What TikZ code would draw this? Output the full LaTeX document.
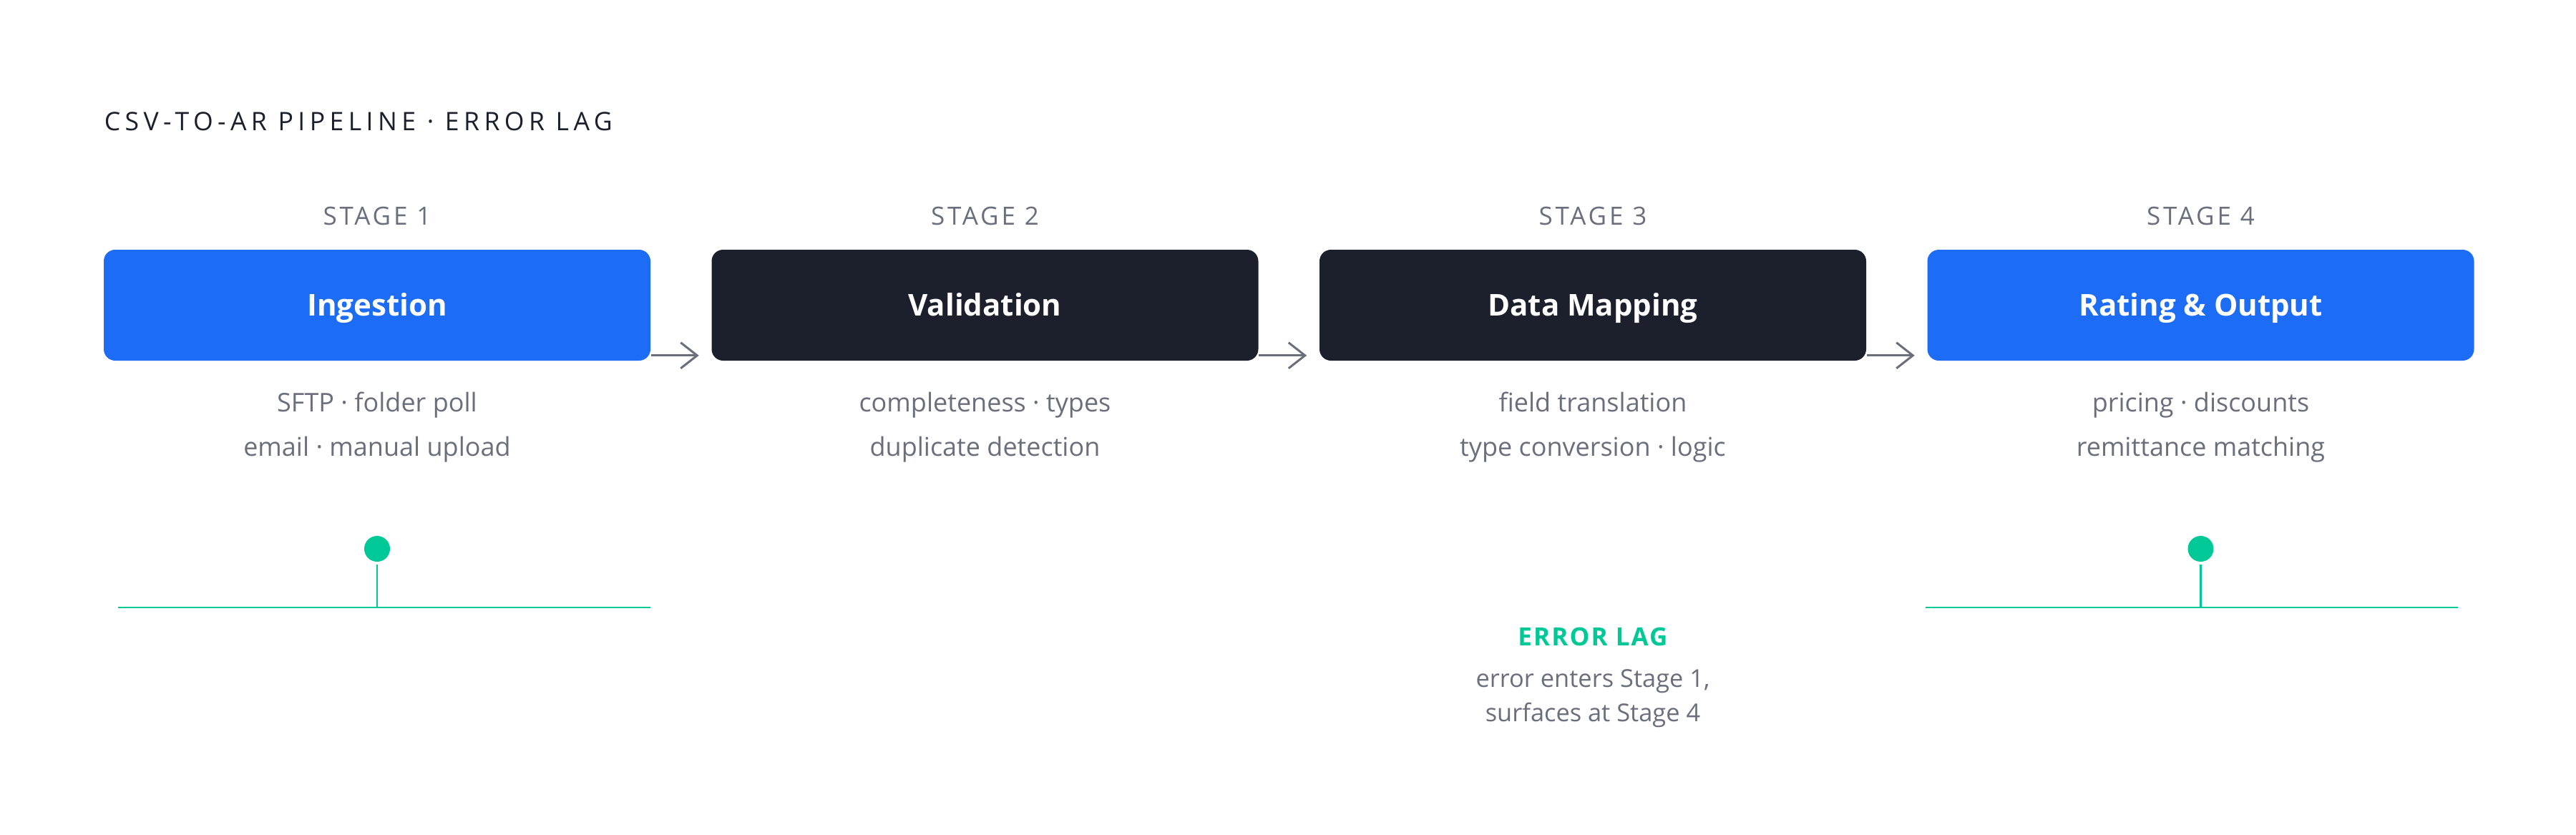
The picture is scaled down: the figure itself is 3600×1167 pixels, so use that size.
\documentclass[tikz,border=0pt]{standalone}
\usepackage{fontspec}
\setmainfont{Open Sans}
\newfontfamily\titlefont[LetterSpace=18]{Open Sans}
\newfontfamily\trackfont[LetterSpace=11]{Open Sans}
\newfontfamily\lagfont[LetterSpace=6]{Open Sans}
\usetikzlibrary{arrows.meta}
\definecolor{blueb}{HTML}{1D6CF5}
\definecolor{darkb}{HTML}{1B202C}
\definecolor{greenl}{HTML}{00C896}
\definecolor{grayt}{HTML}{6B6E7B}
\tikzset{
  x=0.25pt, y=-0.25pt,
  stagebox/.style={rounded corners=4pt, minimum width=191pt, minimum height=38.75pt,
    inner sep=0pt, text height=7.6pt, text depth=0pt, text=white,
    font=\fontsize{10.5}{12}\selectfont\bfseries},
  bluebox/.style={stagebox, fill=blueb},
  darkbox/.style={stagebox, fill=darkb},
  stagelbl/.style={anchor=base, inner sep=0pt, text=grayt, font=\fontsize{8.75}{10}\trackfont},
  desc/.style={anchor=base, inner sep=0pt, text=grayt, font=\fontsize{9}{11}\selectfont},
  lagdesc/.style={anchor=base, inner sep=0pt, text=grayt, font=\fontsize{8.6}{10}\selectfont},
  flow/.style={draw=grayt, line width=0.75pt, -{Straight Barb[length=5.75pt, width=9pt, line width=0.75pt]}},
  lagline/.style={draw=greenl, line width=0.7pt},
  lagdot/.style={circle, fill=greenl, minimum size=9pt, inner sep=0pt},
}
\begin{document}
\begin{tikzpicture}
\useasboundingbox[fill=white] (0,0) rectangle (3600,1167);
\node[anchor=base west, inner sep=0pt, text=darkb, font=\fontsize{8.9}{10}\titlefont] (title) at (145,182.5) {CSV-TO-AR PIPELINE · ERROR LAG};

\node[stagelbl] (s1) at (527,314.5) {STAGE 1};
\node[stagelbl] (s2) at (1376.5,314.5) {STAGE 2};
\node[stagelbl] (s3) at (2226,314.5) {STAGE 3};
\node[stagelbl] (s4) at (3075.5,314.5) {STAGE 4};

\node[bluebox] (b1) at (527,426.5) {Ingestion};
\node[darkbox] (b2) at (1376.5,426.5) {Validation};
\node[darkbox] (b3) at (2226,426.5) {Data Mapping};
\node[bluebox] (b4) at (3075.5,426.5) {Rating \& Output};

\draw[flow] ([yshift=2pt]b1.south east) -- ([yshift=2pt,xshift=-4.25pt]b2.south west);
\draw[flow] ([yshift=2pt]b2.south east) -- ([yshift=2pt,xshift=-4.25pt]b3.south west);
\draw[flow] ([yshift=2pt]b3.south east) -- ([yshift=2pt,xshift=-4.25pt]b4.south west);

\node[desc] (d1a) at (527,575) {SFTP · folder poll};
\node[desc] (d1b) at (527,637) {email · manual upload};
\node[desc] (d2a) at (1376.5,575) {completeness · types};
\node[desc] (d2b) at (1376.5,637) {duplicate detection};
\node[desc] (d3a) at (2226,575) {field translation};
\node[desc] (d3b) at (2226,637) {type conversion · logic};
\node[desc] (d4a) at (3075.5,575) {pricing · discounts};
\node[desc] (d4b) at (3075.5,637) {remittance matching};

\node[lagdot] (p1) at (527,767) {};
\coordinate (h1a) at (165,849);
\coordinate (h1b) at (909,849);
\draw[lagline] (h1a) -- (h1b);
\draw[lagline] ([yshift=-0.75pt]p1.south) -- (p1 |- h1a);

\node[lagdot] (p4) at (3075.5,767) {};
\coordinate (h4a) at (2691,849);
\coordinate (h4b) at (3435,849);
\draw[lagline] (h4a) -- (h4b);
\draw[lagline] ([yshift=-0.75pt]p4.south) -- (p4 |- h4a);

\node[anchor=base, inner sep=0pt, text=greenl, font=\fontsize{8.75}{10}\lagfont\bfseries] (lag) at (2226,902) {ERROR LAG};
\node[lagdesc] (lagd1) at (2226,960) {error enters Stage 1,};
\node[lagdesc] (lagd2) at (2226,1008) {surfaces at Stage 4};
\end{tikzpicture}
\end{document}
